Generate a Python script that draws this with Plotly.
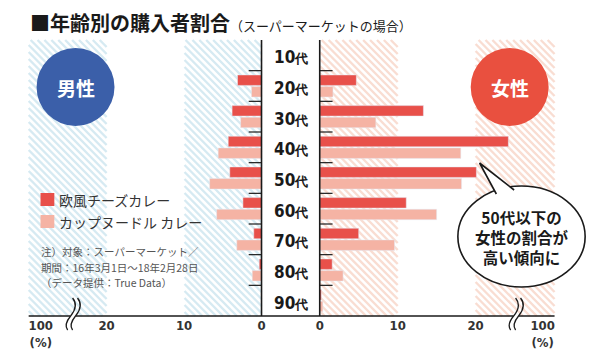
import plotly.graph_objects as go

# ---------------- data ----------------
ages = ['10代', '20代', '30代', '40代', '50代', '60代', '70代', '80代', '90代']
male_cheese = [0, 3.1, 3.8, 4.3, 4.1, 2.4, 1.0, 0.3, 0]
male_cup = [0, 1.3, 2.7, 5.6, 6.7, 5.8, 3.2, 1.2, 0]
female_cheese = [0, 4.7, 13.3, 24.2, 20.1, 11.1, 5.0, 1.6, 0.2]
female_cup = [0, 1.7, 7.2, 18.1, 18.2, 15.0, 9.6, 3.0, 0.4]
series_names = ['欧風チーズカレー', 'カップヌードル カレー']
tick_vals_left = [0, 10, 20, 28.5]
tick_vals_right = [0, 10, 20, 28.6]
tick_text = ['<b>0</b>', '<b>10</b>', '<b>20</b>', '<b>100</b><br><b>(%)</b>']
notes = ['注）対象：スーパーマーケット／', '期間：16年3月1日～18年2月28日', '（データ提供：True Data）']

W, H = 600, 360
DARK = '#e8504a'
LIGHT = '#f5b3a4'
BLUE_STRIPE = '#d6eaf2'
PEACH_STRIPE = '#f9ddd2'


def px(x):
    return x / W


def py(y):
    return 1 - y / H


fig = go.Figure()

fig.add_trace(go.Bar(y=ages, x=male_cheese, orientation='h', name=series_names[0],
                     marker_color=DARK, xaxis='x', yaxis='y', showlegend=False))
fig.add_trace(go.Bar(y=ages, x=male_cup, orientation='h', name=series_names[1],
                     marker_color=LIGHT, xaxis='x', yaxis='y', showlegend=False))
fig.add_trace(go.Bar(y=ages, x=female_cheese, orientation='h', name=series_names[0],
                     marker_color=DARK, xaxis='x2', yaxis='y', showlegend=False))
fig.add_trace(go.Bar(y=ages, x=female_cup, orientation='h', name=series_names[1],
                     marker_color=LIGHT, xaxis='x2', yaxis='y', showlegend=False))

shapes = []
annotations = []


def ann(x, y, text, size, color='#1a1a1a', family='Noto Sans CJK JP', xanchor='center', **kw):
    d = dict(x=px(x), y=py(y), xref='paper', yref='paper', text=text, showarrow=False,
             xanchor=xanchor, yanchor='middle', font=dict(size=size, color=color, family=family))
    d.update(kw)
    annotations.append(d)


# striped background bands
def stripes(x0, x1, y0, y1, color, step=7, width=2.4):
    out = []
    c = y0 - x1
    while c <= y1 - x0:
        xa = max(x0, y0 - c)
        xb = min(x1, y1 - c)
        if xb > xa:
            out.append(dict(type='line', xref='paper', yref='paper',
                            x0=px(xa), y0=py(xa + c), x1=px(xb), y1=py(xb + c),
                            line=dict(color=color, width=width), layer='below'))
        c += step
    return out

for (a, b) in [(25, 104), (183, 261)]:
    shapes += stripes(a, b, 40, 316, BLUE_STRIPE)
for (a, b) in [(320, 399), (478, 558)]:
    shapes += stripes(a, b, 40, 316, PEACH_STRIPE)

LINE = '#1a1a1a'
# center column lines
for x in (261, 320):
    shapes.append(dict(type='line', xref='paper', yref='paper', x0=px(x), x1=px(x),
                       y0=py(40), y1=py(316), line=dict(color=LINE, width=1.6)))
# bottom axis line
shapes.append(dict(type='line', xref='paper', yref='paper', x0=px(25), x1=px(558),
                   y0=py(316), y1=py(316), line=dict(color=LINE, width=1.6)))
# group separator ticks
for i in range(1, len(ages)):
    yv = i - 0.5
    shapes.append(dict(type='line', xref='paper', yref='y', x0=px(248), x1=px(261),
                       y0=yv, y1=yv, line=dict(color=LINE, width=1.2)))
    shapes.append(dict(type='line', xref='paper', yref='y', x0=px(320), x1=px(333),
                       y0=yv, y1=yv, line=dict(color=LINE, width=1.2)))


# axis breaks
def squiggle(x):
    res = [dict(type='rect', xref='paper', yref='paper', x0=px(x - 3), x1=px(x + 3),
                y0=py(319), y1=py(313), fillcolor='white', line=dict(width=0))]
    for dx in (-2.5, 2.5):
        pts = [(x + dx + 2, 298), (x + dx + 7, 304), (x + dx + 5, 310), (x + dx, 316),
               (x + dx - 5, 322), (x + dx - 6, 326), (x + dx - 3, 330)]
        p = 'M {},{} C {},{} {},{} {},{} C {},{} {},{} {},{}'.format(
            *[v for pt in pts for v in (px(pt[0]), py(pt[1]))])
        res.append(dict(type='path', xref='paper', yref='paper', path=p,
                        line=dict(color=LINE, width=1.3)))
    return res

shapes += squiggle(70)
shapes += squiggle(519)

# gender circles
shapes.append(dict(type='circle', xref='paper', yref='paper', x0=px(33), x1=px(112),
                   y0=py(126), y1=py(48), fillcolor='#3b5fa9', line=dict(width=0)))
shapes.append(dict(type='circle', xref='paper', yref='paper', x0=px(473), x1=px(552),
                   y0=py(126), y1=py(48), fillcolor='#e9503f', line=dict(width=0)))
ann(72.5, 87, '<b>男性</b>', 19, color='white')
ann(512.5, 87, '<b>女性</b>', 19, color='white')

# speech bubble
shapes.append(dict(type='circle', xref='paper', yref='paper', x0=px(460), x1=px(589),
                   y0=py(287), y1=py(186), fillcolor='white', line=dict(color=LINE, width=1.6)))
tail = [(499, 194), (482, 163), (517, 190)]
shapes.append(dict(type='path', xref='paper', yref='paper',
                   path='M {},{} L {},{} L {},{}'.format(*[v for pt in tail for v in (px(pt[0]), py(pt[1]))]),
                   fillcolor='white', line=dict(color=LINE, width=1.6)))
ann(525, 237, '<b>50代以下の</b><br><b>女性の割合が</b><br><b>高い傾向に</b>', 15.5)

# age labels
for a in ages:
    annotations.append(dict(x=px(291), y=a, xref='paper', yref='y', yshift=-2,
                            xanchor='center', yanchor='middle',
                            text='<b>' + a[:-1] + '</b><span style="font-size:13px"><b>' + a[-1] + '</b></span>',
                            showarrow=False,
                            font=dict(size=17, color='#1a1a1a', family='DejaVu Sans Condensed')))

# custom legend
for col, y0, y1, name, ty in [(DARK, 193, 206, series_names[0], 199.5),
                              (LIGHT, 215, 228, series_names[1], 221.5)]:
    shapes.append(dict(type='rect', xref='paper', yref='paper', x0=px(37), x1=px(51),
                       y0=py(y1), y1=py(y0), fillcolor=col, line=dict(width=0)))
    ann(54, ty, name, 14, color='#333', xanchor='left')

# notes
for txt, yy in zip(notes, [252, 267, 282]):
    ann(35, yy, txt, 10.5, color='#555', xanchor='left')

# title
ann(24, 22, '<b>■年齢別の購入者割合</b><span style="font-size:13px">（スーパーマーケットの場合）</span>',
    20, xanchor='left')

axis_font = dict(size=13, color='#333', family='DejaVu Sans Condensed')
fig.update_layout(
    width=W, height=H,
    margin=dict(l=0, r=0, t=0, b=0),
    paper_bgcolor='white', plot_bgcolor='rgba(0,0,0,0)',
    barmode='group', bargap=0.24, bargroupgap=0.1,
    showlegend=False,
    xaxis=dict(domain=[px(25), px(261)], range=[236 / 7.85, 0], anchor='y',
               tickvals=tick_vals_left, ticktext=tick_text, showgrid=False, zeroline=False,
               showline=False, ticks='', tickfont=axis_font, fixedrange=True),
    xaxis2=dict(domain=[px(320), px(558)], range=[0, 238 / 7.9], anchor='y',
                tickvals=tick_vals_right, ticktext=tick_text, showgrid=False, zeroline=False,
                showline=False, ticks='', tickfont=axis_font, fixedrange=True),
    yaxis=dict(domain=[py(316), py(40)], autorange='reversed', visible=False,
               categoryorder='array', categoryarray=ages, fixedrange=True),
    shapes=shapes,
    annotations=annotations,
)

fig.write_html('out.html', config={'displayModeBar': False},
               post_script="document.body.style.margin='0';document.body.style.padding='0';")
